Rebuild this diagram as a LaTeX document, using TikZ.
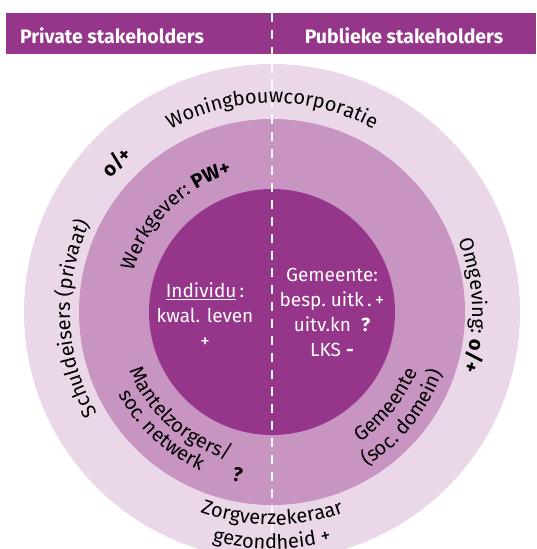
\documentclass[tikz,border=0pt]{standalone}
\usepackage{fontspec}
\setmainfont{Fira Sans}
\usetikzlibrary{decorations.text,calc}

\definecolor{paars}{RGB}{150,54,139}
\definecolor{roze}{RGB}{200,148,194}
\definecolor{lila}{RGB}{234,216,233}

\newcommand\ringfont{\fontsize{20}{22}\selectfont}

\tikzset{
  ringtekst/.style={
    decorate,
    decoration={
      text along path,
      text align=center,
      text={#1}
    }
  },
  balk/.style={
    text=white,
    font=\bfseries\fontsize{19.5}{22}\selectfont,
    anchor=base
  },
  binnen/.style={
    text=white,
    font=\fontsize{19}{25}\selectfont,
    align=center
  },
  losteken/.style={
    font=\bfseries\fontsize{20}{22}\selectfont,
    inner sep=0pt
  }
}

\begin{document}
\begin{tikzpicture}[
  x=1pt,
  y=1pt,
  line cap=round,
  line join=round
]
  \useasboundingbox (0,0) rectangle (536,549);
  \fill[white] (0,0) rectangle (536,549);

  \coordinate (M) at (272,237);
  \coordinate (boven) at (272,536);
  \coordinate (onder) at (272,0);

  % Ringen
  \fill[lila] (M) circle[radius=248];
  \fill[roze] (M) circle[radius=193];
  \fill[paars] (M) circle[radius=123];

  % Balk met koppen
  \fill[paars] (6,495) rectangle (536,536);
  \node[balk] (priv) at (112,505.5) {Private stakeholders};
  \node[balk] (publ) at (404,505.5) {Publieke stakeholders};

  % Scheiding privaat / publiek
  \draw[
    white,
    line width=2.5pt,
    line cap=butt,
    dash pattern=on 9pt off 8pt
  ] (boven) -- (onder);

  % Buitenste ring
  \path[ringtekst={|\ringfont|Woningbouwcorporatie}]
    ($(M)+(150:209)$)
    arc[start angle=150, end angle=30, radius=209];

  \path[ringtekst={|\ringfont|Schuldeisers (privaat)}]
    ($(M)+(252:202)$)
    arc[start angle=252, end angle=112, radius=202];

  \path[ringtekst={|\ringfont|Omgeving: |\ringfont\bfseries|o/+}]
    ($(M)+(72:200)$)
    arc[start angle=72, end angle=-68, radius=200];

  \path[ringtekst={|\ringfont|Zorgverzekeraar}]
    ($(M)+(225:213)$)
    arc[start angle=225, end angle=315, radius=213];

  \path[ringtekst={|\ringfont|gezondheid +}]
    ($(M)+(235:237)$)
    arc[start angle=235, end angle=305, radius=237];

  \node[losteken, rotate=46] (privplus) at ($(M)+(136:216)$) {o/+};

  % Middelste ring
  \path[ringtekst={|\ringfont|Werkgever: |\ringfont\bfseries|PW+}]
    ($(M)+(210:144)$)
    arc[start angle=210, end angle=60, radius=144];

  \path[ringtekst={|\ringfont|Mantelzorgers/}]
    ($(M)+(180:154)$)
    arc[start angle=180, end angle=276, radius=154];

  \path[ringtekst={|\ringfont|soc. netwerk}]
    ($(M)+(180:174)$)
    arc[start angle=180, end angle=274, radius=174];

  \node[losteken, rotate=-12] (mantelvraag) at ($(M)+(258:166)$) {?};

  \path[ringtekst={|\ringfont|Gemeente}]
    ($(M)+(-85:157)$)
    arc[start angle=-85, end angle=7, radius=157];

  \path[ringtekst={|\ringfont|(soc. domein)}]
    ($(M)+(-85:181)$)
    arc[start angle=-85, end angle=7, radius=181];

  % Kern
  \node[binnen] (indiv) at (205,234)
    {\underline{Individu}\,:\\kwal. leven\\+};
  \node[binnen] (gem) at (332,237)
    {Gemeente:\\besp.\ uitk\,.\,+\\uitv.kn\ \ \textbf{?}\\LKS \textbf{-}};
\end{tikzpicture}
\end{document}
